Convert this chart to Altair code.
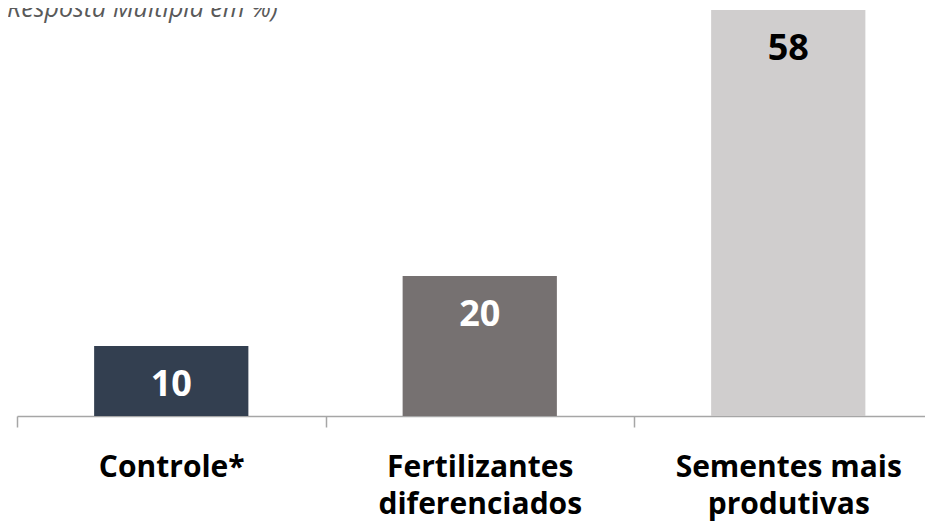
import altair as alt
import pandas as pd

categories = ["Controle*", "Fertilizantes\ndiferenciados", "Sementes mais\nprodutivas"]
values = [10, 20, 58]
bar_colors = ["#333F50", "#767171", "#D0CECE"]
text_colors = ["#FFFFFF", "#FFFFFF", "#000000"]
subtitle = "(Resposta Múltipla em %)"

df = pd.DataFrame({
    "cat": categories,
    "val": values,
    "bar_color": bar_colors,
    "text_color": text_colors,
})

x = alt.X(
    "cat:N",
    sort=categories,
    scale=alt.Scale(paddingInner=0, paddingOuter=0, range=[0, 925.5]),
    axis=alt.Axis(
        title=None,
        labelAngle=0,
        labelExpr="split(datum.label, '\\n')",
        labelFont="Open Sans",
        labelFontSize=30,
        labelFontWeight="bold",
        labelColor="#000000",
        labelLineHeight=37,
        labelBaseline="alphabetic",
        labelPadding=49,
        labelLimit=0,
        tickBand="extent",
        tickSize=11,
        tickColor="#A6A6A6",
        domainColor="#A6A6A6",
        domainWidth=1.5,
        tickWidth=1.5,
    ),
)
y = alt.Y("val:Q", scale=alt.Scale(domain=[0, 58], nice=False), axis=None)

bars = alt.Chart(df).mark_bar(width=alt.RelativeBandSize(0.5)).encode(
    x=x, y=y, color=alt.Color("bar_color:N", scale=None)
)
labels = alt.Chart(df).mark_text(
    font="Open Sans", fontSize=36, fontWeight="bold", baseline="middle", dy=38.5
).encode(
    x=x, y=y, text="val:Q", color=alt.Color("text_color:N", scale=None)
)
title = alt.Chart(pd.DataFrame({"t": [subtitle]})).mark_text(
    font="Open Sans", fontSize=25, fontStyle="italic", color="#595959",
    align="right", baseline="alphabetic"
).encode(x=alt.value(261), y=alt.value(7), text="t:N")

chart = alt.layer(bars, labels, title).properties(
    width=908, height=406,
    autosize=alt.AutoSizeParams(type="none"),
    padding={"left": 9, "top": 2, "right": 0, "bottom": 106},
).configure_view(stroke=None)

chart.save("out.html", embed_options={"renderer": "svg", "actions": False})
